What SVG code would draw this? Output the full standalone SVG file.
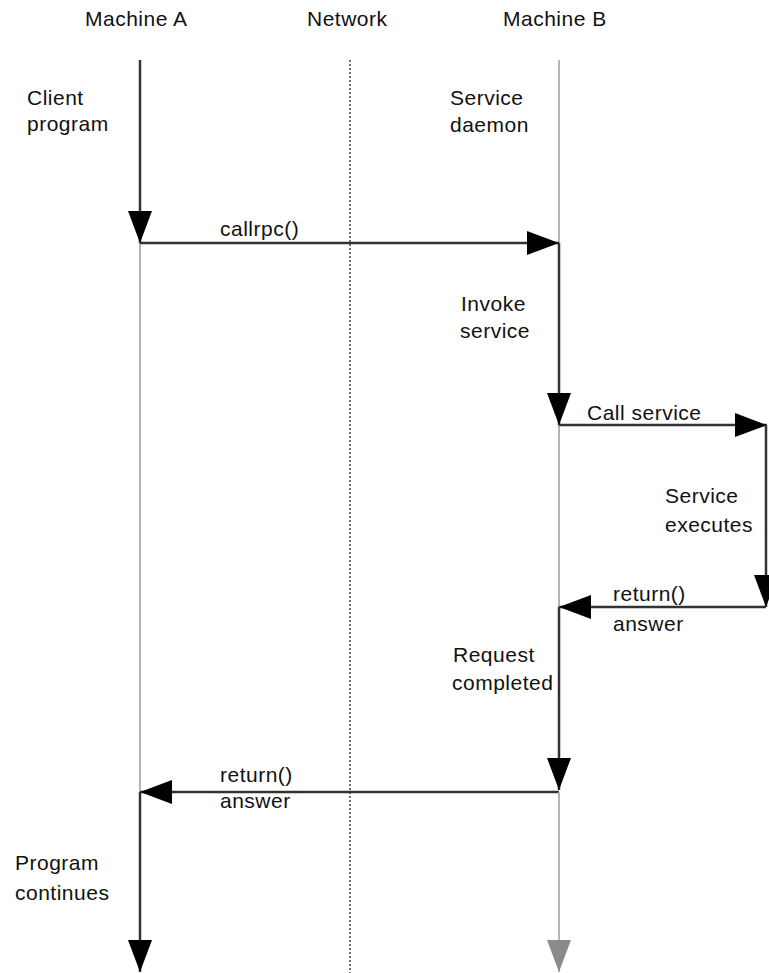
<svg xmlns="http://www.w3.org/2000/svg" width="769" height="973" viewBox="0 0 769 973">
<style>
text{font-family:"Liberation Sans",Arial,Helvetica,sans-serif;font-size:21px;letter-spacing:0.5px;fill:#111}
.act{stroke:#333;stroke-width:2.5;fill:none}
.idle{stroke:#b4b4b4;stroke-width:2;fill:none}
.net{stroke:#444;stroke-width:1.5;stroke-dasharray:2 2;fill:none}
</style>
<defs>
<marker id="ah" markerUnits="userSpaceOnUse" markerWidth="32" markerHeight="24" refX="32" refY="12" orient="auto" viewBox="0 0 32 24">
<path d="M0,0 L32,12 L0,24 z" fill="#000"/>
</marker>
<marker id="ahg" markerUnits="userSpaceOnUse" markerWidth="32" markerHeight="24" refX="32" refY="12" orient="auto" viewBox="0 0 32 24">
<path d="M0,0 L32,12 L0,24 z" fill="#8a8a8a"/>
</marker>
</defs>
<rect width="769" height="973" fill="#fff"/>
<g id="machine-a">
<text x="85" y="26">Machine A</text>
<line class="idle" x1="140" y1="243" x2="140" y2="792"/>
<text x="27" y="105">Client</text>
<text x="27" y="131">program</text>
<text x="15" y="870">Program</text>
<text x="15" y="900">continues</text>
</g>
<g id="network">
<text x="307" y="26">Network</text>
<line class="net" x1="350" y1="60" x2="350" y2="973"/>
</g>
<g id="machine-b">
<text x="503" y="26">Machine B</text>
<line class="idle" x1="559" y1="60" x2="559" y2="243"/>
<line class="idle" x1="559" y1="425" x2="559" y2="607"/>
<text x="450" y="105">Service</text>
<text x="450" y="132">daemon</text>
<text x="461" y="311">Invoke</text>
<text x="460" y="338">service</text>
<text x="453" y="662">Request</text>
<text x="452" y="690">completed</text>
</g>
<g id="service">
<text x="665" y="503">Service</text>
<text x="665" y="532">executes</text>
</g>
<g id="connectors">
<line class="act" x1="140" y1="60" x2="140" y2="243" marker-end="url(#ah)"/>
<line class="act" x1="140" y1="243" x2="559" y2="243" marker-end="url(#ah)"/>
<text x="220" y="236">callrpc()</text>
<line class="act" x1="559" y1="243" x2="559" y2="425" marker-end="url(#ah)"/>
<line class="act" x1="559" y1="425" x2="767" y2="425" marker-end="url(#ah)"/>
<text x="587" y="420">Call service</text>
<line class="act" x1="766" y1="425" x2="766" y2="607" marker-end="url(#ah)"/>
<line class="act" x1="766" y1="607" x2="559" y2="607" marker-end="url(#ah)"/>
<text x="613" y="601">return()</text>
<text x="613" y="631">answer</text>
<line class="act" x1="559" y1="607" x2="559" y2="790" marker-end="url(#ah)"/>
<line class="act" x1="559" y1="792" x2="140" y2="792" marker-end="url(#ah)"/>
<text x="220" y="782">return()</text>
<text x="220" y="808">answer</text>
<line class="act" x1="140" y1="792" x2="140" y2="972" marker-end="url(#ah)"/>
<line class="idle" x1="559" y1="792" x2="559" y2="972" marker-end="url(#ahg)"/>
</g>
</svg>
